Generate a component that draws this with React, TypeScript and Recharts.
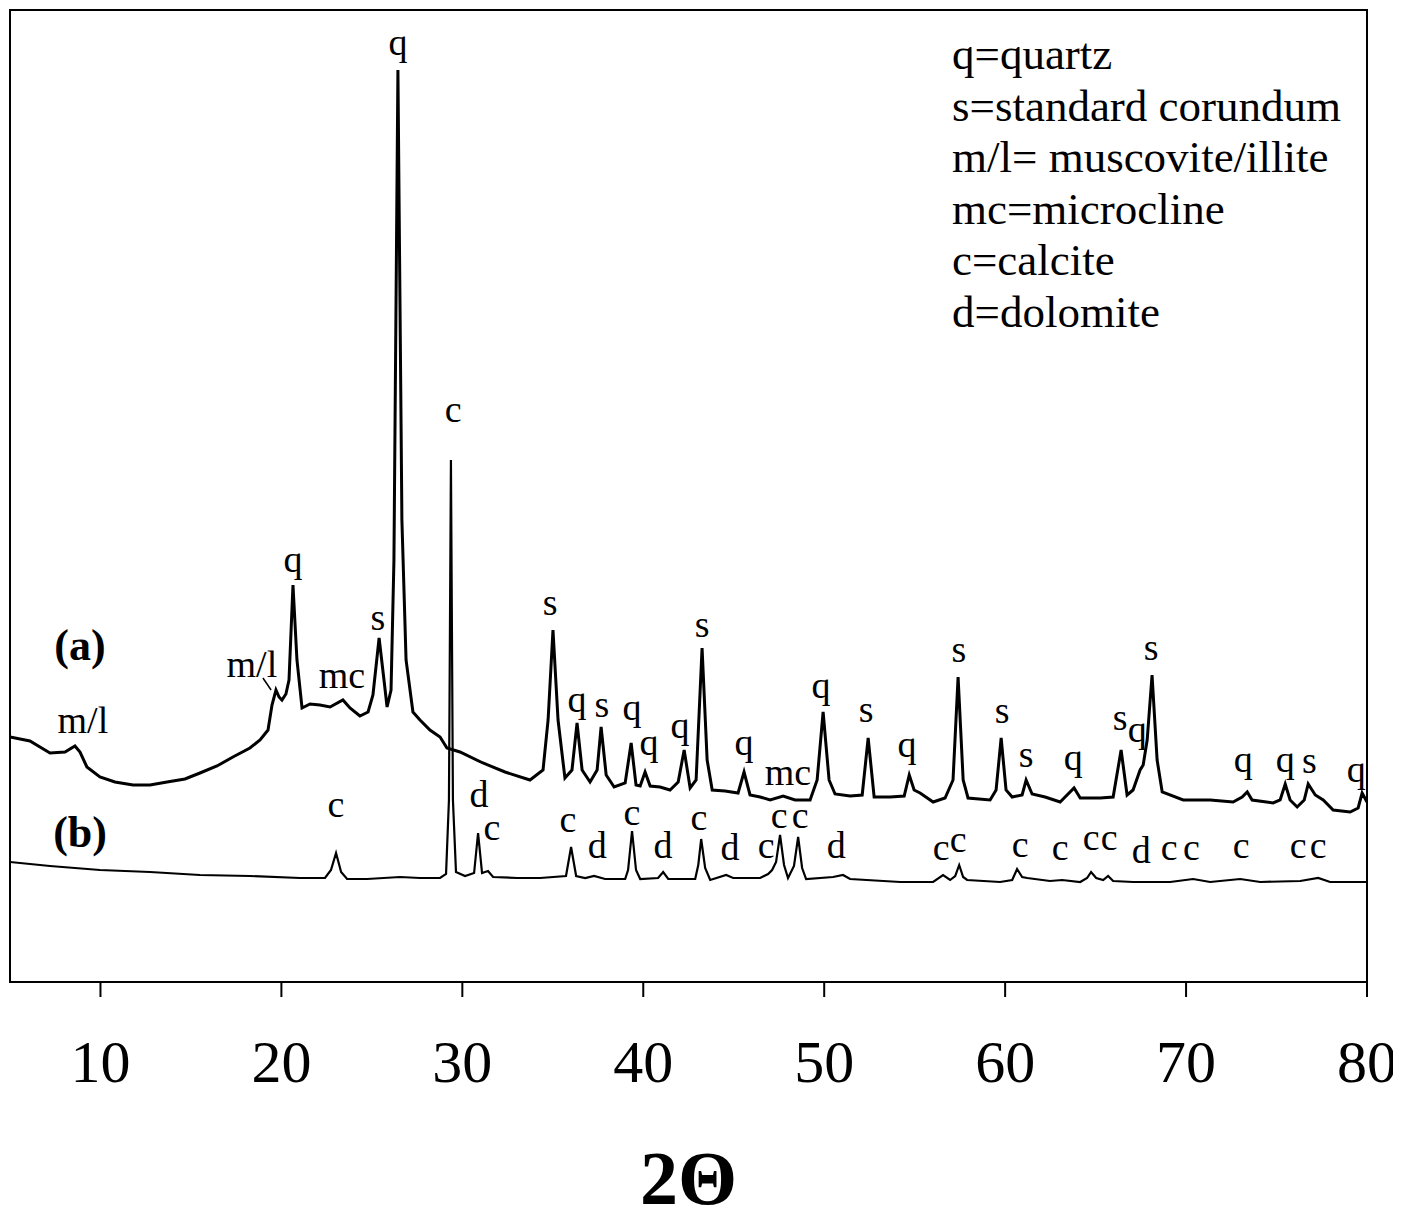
import React from 'react';
import { ComposedChart, Line, Scatter, XAxis, YAxis, ReferenceArea, ReferenceLine, Label } from 'recharts';

const SERIF = "'Liberation Serif', 'Times New Roman', serif";

// 2θ ticks
const xTicks = [10, 20, 30, 40, 50, 60, 70, 80];

// pattern (a): [2θ, intensity]
const patternA: [number, number][] = [
  [5.0, 245], [6.1, 241], [7.21, 229], [8.04, 230], [8.59, 236], [8.87, 230], [9.25, 215], [9.97, 205],
  [10.8, 200], [11.8, 197], [12.74, 197], [13.68, 200], [14.67, 203], [15.5, 209], [16.44, 216],
  [17.32, 225], [18.26, 234], [18.82, 242], [19.26, 252], [19.48, 277], [19.7, 292], [19.87, 285],
  [20.03, 282], [20.25, 288], [20.42, 302], [20.64, 397], [20.86, 322], [21.14, 274], [21.58, 278],
  [22.13, 277], [22.69, 275], [23.4, 282], [23.79, 274], [24.34, 266], [24.79, 270], [25.06, 287],
  [25.4, 344], [25.67, 302], [25.84, 275], [26.06, 292], [26.22, 422], [26.44, 912], [26.66, 462],
  [26.89, 322], [27.27, 270], [27.66, 262], [28.21, 252], [28.77, 245], [29.15, 234], [29.87, 230],
  [31.14, 219], [32.36, 210], [33.74, 202], [34.46, 212], [34.74, 262], [35.01, 352], [35.29, 262],
  [35.67, 204], [36.06, 212], [36.34, 259], [36.62, 212], [37.06, 200], [37.45, 212], [37.67, 255],
  [37.95, 207], [38.39, 195], [39.0, 199], [39.33, 239], [39.6, 197], [39.83, 196], [40.1, 210],
  [40.38, 196], [40.93, 195], [41.48, 192], [41.93, 200], [42.26, 232], [42.59, 194], [42.92, 202],
  [43.25, 334], [43.53, 222], [43.81, 192], [44.52, 191], [45.24, 189], [45.57, 210], [45.9, 187],
  [46.46, 185], [47.01, 182], [47.73, 186], [48.39, 182], [49.22, 182], [49.61, 202], [49.94, 270],
  [50.27, 202], [50.6, 188], [51.43, 186], [52.1, 187], [52.43, 244], [52.76, 185], [53.65, 185],
  [54.42, 186], [54.7, 207], [54.97, 192], [55.3, 189], [56.02, 180], [56.68, 184], [57.12, 202],
  [57.4, 305], [57.68, 202], [57.95, 184], [59.17, 182], [59.5, 192], [59.78, 244], [60.05, 192],
  [60.39, 185], [60.94, 187], [61.16, 202], [61.49, 188], [62.21, 185], [63.04, 180], [63.81, 194],
  [64.15, 184], [65.25, 184], [65.97, 185], [66.41, 232], [66.74, 187], [67.07, 192], [67.46, 212],
  [67.63, 217], [67.85, 242], [68.12, 307], [68.4, 222], [68.68, 190], [69.84, 182], [71.33, 182],
  [72.6, 180], [73.1, 185], [73.38, 190], [73.65, 182], [74.81, 179], [75.2, 182], [75.48, 198],
  [75.75, 182], [76.14, 175], [76.53, 182], [76.75, 198], [77.14, 187], [77.58, 182], [78.13, 172],
  [79.07, 170], [79.51, 174], [79.73, 189], [80.0, 180],
];

// pattern (b): [2θ, intensity]
const patternB: [number, number][] = [
  [5.0, 120], [7.21, 116], [9.97, 112], [12.74, 110], [15.5, 107], [18.26, 106], [21.03, 104],
  [22.41, 104], [22.74, 112], [23.02, 129], [23.3, 110], [23.63, 103], [24.74, 103], [26.56, 105],
  [27.66, 104], [28.77, 104], [29.1, 108], [29.26, 182], [29.37, 522], [29.48, 182], [29.65, 110],
  [30.15, 106], [30.65, 109], [30.87, 149], [31.09, 109], [31.42, 111], [31.7, 105], [33.03, 104],
  [34.3, 104], [35.73, 106], [36.01, 135], [36.29, 106], [36.79, 104], [37.28, 106], [37.89, 103],
  [39.0, 103], [39.16, 112], [39.38, 151], [39.6, 112], [39.83, 103], [40.82, 104], [41.1, 110],
  [41.38, 103], [42.87, 103], [43.04, 117], [43.2, 143], [43.42, 114], [43.7, 102], [44.58, 107],
  [44.97, 104], [46.46, 104], [46.9, 108], [47.12, 112], [47.34, 120], [47.56, 147], [47.78, 117],
  [48.0, 104], [48.33, 116], [48.56, 145], [48.78, 114], [49.0, 103], [50.49, 105], [51.04, 107],
  [51.43, 103], [54.2, 100], [56.02, 100], [56.57, 107], [56.96, 102], [57.24, 106], [57.46, 117],
  [57.68, 105], [57.9, 102], [59.72, 100], [60.39, 102], [60.66, 113], [60.94, 105], [61.22, 104],
  [62.48, 101], [63.15, 102], [64.15, 100], [64.53, 104], [64.75, 110], [65.03, 104], [65.42, 102],
  [65.69, 106], [65.97, 101], [67.07, 100], [69.12, 100], [70.39, 103], [71.33, 100], [72.99, 103],
  [74.1, 100], [76.31, 101], [77.3, 104], [77.96, 100], [80.0, 100],
];

// peak labels for (a): [2θ, baseline intensity, text]
const labelsA: [number, number, string][] = [
  [9.03, 249, 'm/l'], [18.37, 305, 'm/l'], [20.64, 410, 'q'], [23.35, 294, 'mc'], [25.34, 352, 's'],
  [26.45, 927, 'q'], [34.85, 367, 's'], [36.34, 270, 'q'], [37.72, 265, 's'], [39.38, 262, 'q'],
  [40.32, 227, 'q'], [42.03, 244, 'q'], [43.25, 345, 's'], [45.57, 227, 'q'], [48.0, 197, 'mc'],
  [49.82, 284, 'q'], [52.32, 260, 's'], [54.58, 225, 'q'], [57.45, 320, 's'], [59.83, 259, 's'],
  [61.16, 215, 's'], [63.76, 212, 'q'], [66.36, 252, 's'], [67.3, 240, 'q'], [68.07, 322, 's'],
  [73.16, 210, 'q'], [75.48, 210, 'q'], [76.81, 209, 's'], [79.4, 200, 'q'],
];

// peak labels for (b)
const labelsB: [number, number, string][] = [
  [23.02, 165, 'c'], [29.49, 560, 'c'], [30.92, 175, 'd'], [31.64, 142, 'c'], [35.84, 150, 'c'],
  [37.45, 124, 'd'], [39.38, 157, 'c'], [41.09, 124, 'd'], [43.08, 152, 'c'], [44.8, 122, 'd'],
  [46.79, 124, 'c'], [47.51, 154, 'c'], [48.67, 154, 'c'], [50.66, 124, 'd'], [56.46, 122, 'c'],
  [57.4, 130, 'c'], [60.83, 125, 'c'], [63.04, 122, 'c'], [64.75, 132, 'c'], [65.75, 132, 'c'],
  [67.52, 119, 'd'], [69.07, 122, 'c'], [70.29, 122, 'c'], [73.05, 124, 'c'], [76.2, 124, 'c'],
  [77.3, 124, 'c'],
];

const sampleNames: [number, number, string][] = [
  [8.87, 322, '(a)'],
  [8.87, 135, '(b)'],
];

// leader tick from upper m/l label to its peak
const mlLeader: [number, number][] = [[18.98, 304], [19.43, 292]];

const legendLines = [
  'q=quartz',
  's=standard corundum',
  'm/l= muscovite/illite',
  'mc=microcline',
  'c=calcite',
  'd=dolomite',
];

const toXY = (rows: [number, number][]) => rows.map(([x, y]) => ({ x, y }));
const toLbl = (rows: [number, number, string][]) => rows.map(([x, y, t]) => ({ x, y, t }));

const PeakText = (props: any) => {
  const { cx, cy, payload } = props;
  return (
    <text x={cx} y={cy} textAnchor="middle" fontSize={38} fontFamily={SERIF} fill="#000">
      {payload.t}
    </text>
  );
};

const NameText = (props: any) => {
  const { cx, cy, payload } = props;
  return (
    <text x={cx} y={cy} textAnchor="middle" fontSize={44} fontWeight="bold" fontFamily={SERIF} fill="#000">
      {payload.t}
    </text>
  );
};

export default function App() {
  return (
    <div style={{ position: 'relative', width: 1393, height: 1212, background: '#fff' }}>
      <ComposedChart width={1393} height={1212} margin={{ top: 2, right: 34, bottom: 0, left: 2 }}>
        <XAxis
          type="number"
          dataKey="x"
          domain={[5, 80]}
          ticks={xTicks}
          allowDataOverflow
          height={238}
          axisLine={{ stroke: '#000', strokeWidth: 2 }}
          tickLine={{ stroke: '#000', strokeWidth: 2 }}
          tickSize={15}
          tickMargin={42}
          tick={{ fontSize: 60, fontFamily: SERIF, fill: '#000' }}
        >
          <Label
            value="2Θ"
            position="insideBottom"
            offset={16}
            fontSize={76}
            fontWeight="bold"
            fontFamily={SERIF}
            fill="#000"
          />
        </XAxis>
        <YAxis type="number" dataKey="y" domain={[0, 972]} allowDataOverflow hide />
        <ReferenceArea x1={5} x2={80} y1={0} y2={972} fill="none" fillOpacity={0} stroke="#000" strokeWidth={2} />
        <Line
          data={toXY(patternA)}
          dataKey="y"
          type="linear"
          stroke="#000"
          strokeWidth={3}
          dot={false}
          isAnimationActive={false}
        />
        <Line
          data={toXY(patternB)}
          dataKey="y"
          type="linear"
          stroke="#000"
          strokeWidth={2.2}
          dot={false}
          isAnimationActive={false}
        />
        <ReferenceLine
          segment={toXY(mlLeader)}
          stroke="#000"
          strokeWidth={1.5}
        />
        <Scatter data={toLbl(labelsA)} dataKey="y" shape={PeakText} isAnimationActive={false} />
        <Scatter data={toLbl(labelsB)} dataKey="y" shape={PeakText} isAnimationActive={false} />
        <Scatter data={toLbl(sampleNames)} dataKey="y" shape={NameText} isAnimationActive={false} />
      </ComposedChart>
      <div
        style={{
          position: 'absolute',
          left: 944,
          top: 21,
          fontFamily: SERIF,
          fontSize: 45,
          lineHeight: '51.6px',
          color: '#000',
          whiteSpace: 'nowrap',
        }}
      >
        {legendLines.map((l) => (
          <div key={l}>{l}</div>
        ))}
      </div>
    </div>
  );
}
